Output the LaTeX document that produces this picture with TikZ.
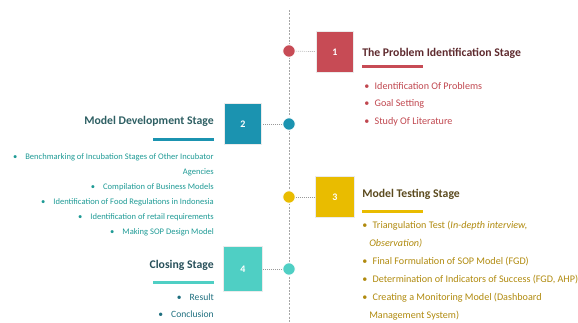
\documentclass[tikz,border=0pt]{standalone}
\usepackage{fontspec}
\setmainfont{Carlito}
\definecolor{cRed}{HTML}{C74B55}
\definecolor{cRedT}{HTML}{C0474F}
\definecolor{cRedH}{HTML}{5E2A2E}
\definecolor{cBlue}{HTML}{1B93B0}
\definecolor{cBlueH}{HTML}{2E5F63}
\definecolor{cBlueT}{HTML}{1E9A95}
\definecolor{cYel}{HTML}{E9BC00}
\definecolor{cYelH}{HTML}{5B4A1E}
\definecolor{cYelT}{HTML}{B08A0E}
\definecolor{cTur}{HTML}{4FCFC4}
\definecolor{cTurH}{HTML}{28505A}
\definecolor{cTurT}{HTML}{1F6F7F}
\begin{document}
\begin{tikzpicture}[x=0.75pt,y=-0.75pt,
  dot/.style={circle,fill=#1,draw=white,line width=0.8pt,minimum size=9.5pt,inner sep=0pt},
  numbox/.style={rectangle,fill=#1,draw=black!8,line width=1.2pt,minimum width=28pt,minimum height=31pt,inner sep=0pt,text=white,font=\fontsize{7.5}{8}\selectfont\bfseries},
  head/.style={inner sep=0pt,text=#1,font=\fontsize{8.8}{10}\selectfont\bfseries},
  itemR/.style={inner sep=0pt,text=#1,font=\fontsize{7.6}{8}\selectfont,anchor=base west},
  itemL/.style={inner sep=0pt,text=#1,font=\fontsize{6.4}{7}\selectfont,anchor=base east},
  itemC/.style={inner sep=0pt,text=#1,font=\fontsize{7.2}{8}\selectfont,anchor=base east},
  link/.style={draw=black!40,densely dotted,line width=0.5pt},
  spine/.style={draw=black!35,dashed,dash pattern=on 1.5pt off 1pt,line width=0.7pt}]
\useasboundingbox (0,0) rectangle (578,322);
% spine
\coordinate (top) at (289,10);
\coordinate (bot) at (289,322);
\draw[spine] (top) -- (bot);
% circles
\node[dot=cRed] (d1) at (289,51) {};
\node[dot=cBlue] (d2) at (289,124) {};
\node[dot=cYel] (d3) at (289,197) {};
\node[dot=cTur] (d4) at (289,269) {};
% boxes
\node[numbox=cRed] (b1) at (335,52) {1};
\node[numbox=cBlue] (b2) at (243,124) {2};
\node[numbox=cYel, minimum width=29.5pt] (b3) at (335,197) {3};
\node[numbox=cTur, minimum width=29.5pt, minimum height=34pt] (b4) at (243,269) {4};
% links
\draw[link] (d1) -- (b1);
\draw[link] (d2) -- (b2);
\draw[link] (d3) -- (b3);
\draw[link] (d4) -- (b4);
% stage 1
\node[head=cRedH,anchor=base west] (h1) at (362,56) {The Problem Identification Stage};
\fill[cRed] (362,65) rectangle (423,67.5);
\node[itemR=cRedT] (i11) at (364,89) {•\hspace{4pt}Identification Of Problems};
\node[itemR=cRedT] (i12) at (364,106) {•\hspace{4pt}Goal Setting};
\node[itemR=cRedT] (i13) at (364,124) {•\hspace{4pt}Study Of Literature};
% stage 2
\node[head=cBlueH,anchor=base east] (h2) at (214,124) {Model Development Stage};
\fill[cBlue] (153,138) rectangle (214,140.5);
\node[itemL=cBlueT] (i21) at (214,159) {•\hspace{6pt}Benchmarking of Incubation Stages of Other Incubator};
\node[itemL=cBlueT] (i22) at (214,174) {Agencies};
\node[itemL=cBlueT] (i23) at (214,189) {•\hspace{6pt}Compilation of Business Models};
\node[itemL=cBlueT] (i24) at (214,204) {•\hspace{6pt}Identification of Food Regulations in Indonesia};
\node[itemL=cBlueT] (i25) at (214,219) {•\hspace{6pt}Identification of retail requirements};
\node[itemL=cBlueT] (i26) at (214,234) {•\hspace{6pt}Making SOP Design Model};
% stage 3
\node[head=cYelH,anchor=base west] (h3) at (362,197) {Model Testing Stage};
\fill[cYel] (362,210) rectangle (423,212.5);
\node[itemR=cYelT] (i31) at (362,228) {•\hspace{4pt}Triangulation Test (\textit{In-depth interview,}};
\node[itemR=cYelT] (i32) at (369,246) {\textit{Observation)}};
\node[itemR=cYelT] (i33) at (362,264) {•\hspace{4pt}Final Formulation of SOP Model (FGD)};
\node[itemR=cYelT] (i34) at (362,282) {•\hspace{4pt}Determination of Indicators of Success (FGD, AHP)};
\node[itemR=cYelT] (i35) at (362,300) {•\hspace{4pt}Creating a Monitoring Model (Dashboard};
\node[itemR=cYelT] (i36) at (369,318) {Management System)};
% stage 4
\node[head=cTurH,anchor=base east] (h4) at (214,268) {Closing Stage};
\fill[cTur] (153,281) rectangle (214,283.5);
\node[itemC=cTurT] (i41) at (214,300) {•\hspace{6pt}Result};
\node[itemC=cTurT] (i42) at (214,317) {•\hspace{6pt}Conclusion};
\end{tikzpicture}
\end{document}
